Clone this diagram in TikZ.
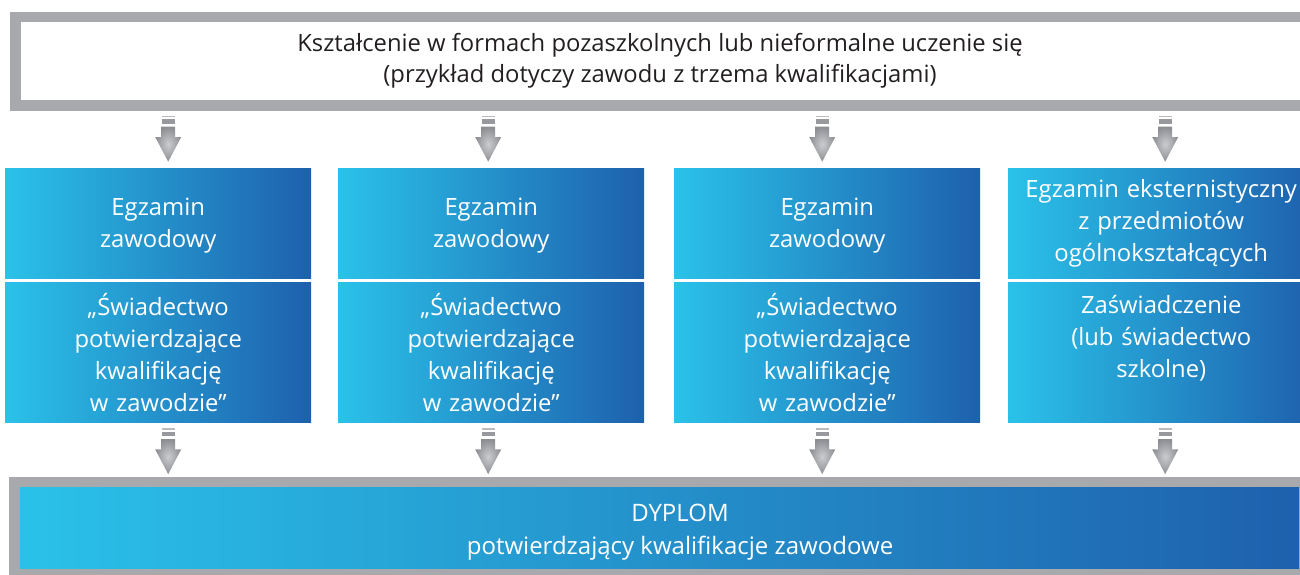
\documentclass[tikz,border=0pt]{standalone}
\usepackage{fontspec}
\setmainfont{Open Sans}
\usetikzlibrary{calc}
\definecolor{framegray}{HTML}{A7A9AC}
\definecolor{cyanL}{HTML}{2AC2E9}
\definecolor{cyanM}{HTML}{1FA2DA}
\definecolor{blueR}{HTML}{1E60AD}
\definecolor{arrowgray}{HTML}{8C8E93}
\definecolor{textdark}{HTML}{231F20}
\tikzset{
  downarrow/.pic = {
    \fill[arrowgray!60] (-6.5,-23.3) rectangle (6.5,-21.7);
    \fill[arrowgray!90] (-6.5,-19.7) rectangle (6.5,-15);
    \shade[inner color=arrowgray!45, outer color=arrowgray]
      (-7,-12.3) -- (7,-12.3) -- (7,-2) -- (13,-2) -- (0,22.7) -- (-13,-2) -- (-7,-2) -- cycle;
  }
}
\begin{document}
\begin{tikzpicture}[x=1pt, y=-1pt,
    framebox/.style = {rectangle, draw=framegray, line width=10.5pt, inner sep=0pt},
    bluebox/.style = {rectangle, left color=cyanL, middle color=cyanM, right color=blueR,
      text=white, align=center, inner sep=0pt, text width=300pt,
      minimum width=306pt, anchor=north west, font=\fontsize{23.8}{32}\selectfont}]
  \useasboundingbox (0,0) rectangle (1300,574);

  % top frame
  \node[framebox, fill=white, minimum width=1289.5pt, minimum height=88.5pt,
    text=textdark, align=center, font=\fontsize{23.8}{31}\selectfont] (top) at (660,61)
    {Kształcenie w formach pozaszkolnych lub nieformalne uczenie się\\
     (przykład dotyczy zawodu z trzema kwalifikacjami)};

  % exams
  \node[bluebox, minimum height=110pt] (e1) at (5,168) {\rule{0pt}{23pt}Egzamin\\zawodowy};
  \node[bluebox, minimum height=110pt] (e2) at (338,168) {\rule{0pt}{23pt}Egzamin\\zawodowy};
  \node[bluebox, minimum height=110pt] (e3) at (674,168) {\rule{0pt}{23pt}Egzamin\\zawodowy};
  \node[bluebox, minimum height=110pt] (e4) at (1008,168)
    {Egzamin eksternistyczny\\z przedmiotów\\ogólnokształcących};

  % certificates
  \node[bluebox, minimum height=140pt] (s1) at (5,282)
    {„Świadectwo\\potwierdzające\\kwalifikację\\w zawodzie”};
  \node[bluebox, minimum height=140pt] (s2) at (338,282)
    {„Świadectwo\\potwierdzające\\kwalifikację\\w zawodzie”};
  \node[bluebox, minimum height=140pt] (s3) at (674,282)
    {„Świadectwo\\potwierdzające\\kwalifikację\\w zawodzie”};
  \node[bluebox, minimum height=140pt] (s4) at (1008,282)
    {Zaświadczenie\\(lub świadectwo\\szkolne)\\\mbox{}};

  % diploma
  \node[framebox, left color=cyanL, middle color=cyanM!80!blueR, right color=blueR,
    minimum width=1290pt, minimum height=92pt] (dyp) at (659.5,528) {};
  \node[text=white, align=center, font=\fontsize{24}{33}\selectfont] (dyptext) at (680,532)
    {DYPLOM\\potwierdzający kwalifikacje zawodowe};

  % arrows
  \foreach \i/\dx in {1/10, 2/-3, 3/-5, 4/4} {
    \pic at ($(e\i.north)+(\dx,-29)$) {downarrow};
    \pic at ($(s\i.south)+(\dx,29)$) {downarrow};
  }
\end{tikzpicture}
\end{document}
